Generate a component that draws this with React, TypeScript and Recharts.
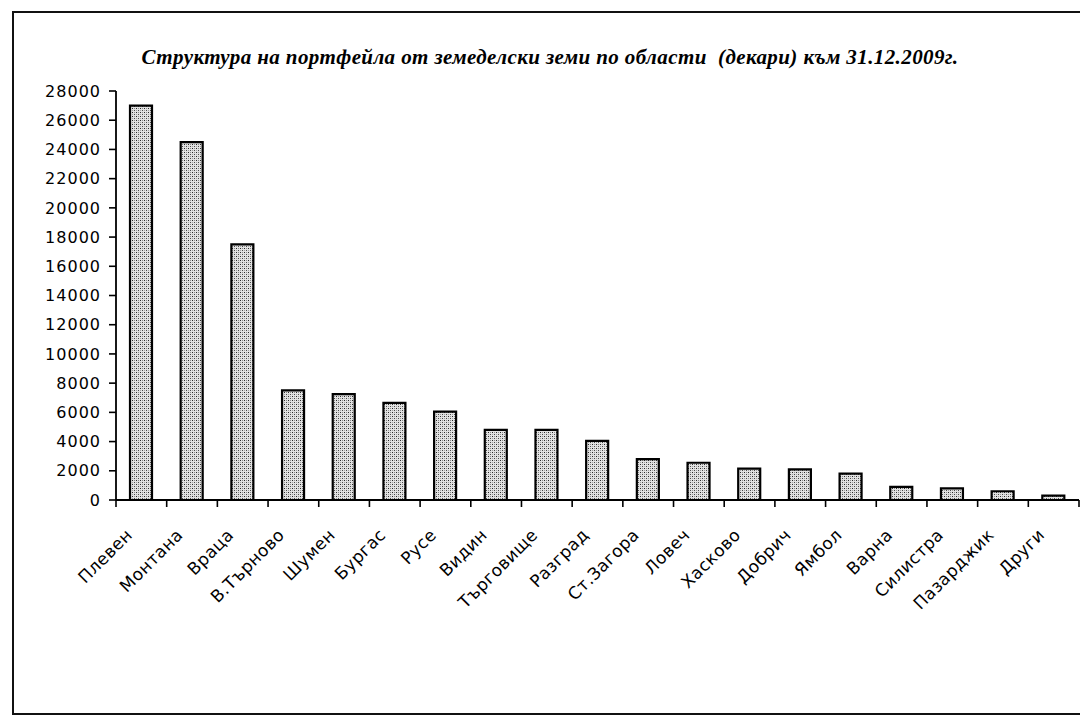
import React from 'react';
import { BarChart, Bar, XAxis, YAxis } from 'recharts';

const regions: string[] = [
  'Плевен', 'Монтана', 'Враца', 'В.Търново', 'Шумен', 'Бургас', 'Русе', 'Видин', 'Търговище',
  'Разград', 'Ст.Загора', 'Ловеч', 'Хасково', 'Добрич', 'Ямбол', 'Варна', 'Силистра', 'Пазарджик', 'Други',
];
const areas: number[] = [
  27000, 24500, 17500, 7500, 7250, 6650, 6050, 4800, 4800,
  4050, 2800, 2550, 2150, 2100, 1800, 900, 800, 600, 300,
];
const yTicks: number[] = [0, 2000, 4000, 6000, 8000, 10000, 12000, 14000, 16000, 18000, 20000, 22000, 24000, 26000, 28000];
const title = 'Структура на портфейла от земеделски земи по области  (декари) към 31.12.2009г.';

const data = regions.map((name, i) => ({ name, value: areas[i] }));

const W = 1080;
const H = 726;
const M = { top: 91, right: 1, left: 0, bottom: 106 };
const Y_W = 116;
const X_H = 120;
const PLOT_W = W - M.left - M.right - Y_W;
const BAND = PLOT_W / regions.length;

const XTick = (props: any) => {
  const { x, y, payload, index } = props;
  const left = x - BAND / 2;
  const right = x + BAND / 2;
  const tx = x - 8;
  const ty = y + 36;
  return (
    <g>
      <line x1={left} x2={left} y1={y} y2={y + 7} stroke="#000" strokeWidth={1.6} />
      {index === regions.length - 1 && (
        <line x1={right} x2={right} y1={y} y2={y + 7} stroke="#000" strokeWidth={1.6} />
      )}
      <text
        x={tx}
        y={ty}
        textAnchor="end"
        transform={`rotate(-45 ${tx} ${ty})`}
        fontFamily="'DejaVu Sans', sans-serif"
        fontSize={17}
        letterSpacing={0.4}
        fill="#000"
      >
        {payload.value}
      </text>
    </g>
  );
};

export default function App() {
  return (
    <div
      style={{
        position: 'absolute',
        left: 0,
        top: 0,
        width: W,
        height: H,
        overflow: 'hidden',
        background: '#fff',
      }}
    >
      <div
        style={{
          position: 'absolute',
          left: 12,
          top: 11,
          width: 1120,
          height: 704,
          border: '2px solid #111',
          boxSizing: 'border-box',
        }}
      />
      <div
        style={{
          position: 'absolute',
          left: 0,
          width: 1100,
          top: 45,
          textAlign: 'center',
          fontFamily: "'Liberation Serif', 'Times New Roman', serif",
          fontStyle: 'italic',
          fontWeight: 'bold',
          fontSize: 21,
          letterSpacing: 0.4,
          whiteSpace: 'pre',
          color: '#000',
        }}
      >
        {title}
      </div>
      <div style={{ position: 'absolute', left: 0, top: 0 }}>
        <BarChart width={W} height={H} data={data} margin={M} barCategoryGap={0}>
          <defs>
            <pattern id="dots" width="4" height="4" patternUnits="userSpaceOnUse">
              <rect width="4" height="4" fill="#e2e2e2" />
              <rect x="0" y="0" width="1" height="1" fill="#2a2a2a" />
              <rect x="2" y="2" width="1" height="1" fill="#4a4a4a" />
              <rect x="2" y="0" width="1" height="1" fill="#8a8a8a" />
              <rect x="0" y="2" width="1" height="1" fill="#a0a0a0" />
            </pattern>
          </defs>
          <XAxis
            dataKey="name"
            interval={0}
            height={X_H}
            tick={<XTick />}
            tickLine={false}
            tickSize={0}
            tickMargin={0}
            axisLine={{ stroke: '#000', strokeWidth: 1.8 }}
          />
          <XAxis
            xAxisId="top"
            dataKey="name"
            orientation="top"
            height={0}
            tick={false}
            tickLine={false}
            axisLine={{ stroke: '#000', strokeWidth: 1.8 }}
          />
          <YAxis
            width={Y_W}
            domain={[0, 28000]}
            ticks={yTicks}
            interval={0}
            tickSize={7}
            tickMargin={8}
            tickLine={{ stroke: '#000', strokeWidth: 1.6 }}
            axisLine={{ stroke: '#000', strokeWidth: 1.8 }}
            tick={{
              fill: '#000',
              fontSize: 16,
              fontFamily: "'DejaVu Sans', sans-serif",
              letterSpacing: 1,
            }}
          />
          <YAxis
            yAxisId="right"
            orientation="right"
            width={0}
            domain={[0, 28000]}
            tick={false}
            tickLine={false}
            axisLine={{ stroke: '#000', strokeWidth: 1.8 }}
          />
          <Bar
            dataKey="value"
            barSize={22}
            fill="url(#dots)"
            stroke="#000"
            strokeWidth={2.2}
            isAnimationActive={false}
          />
        </BarChart>
      </div>
    </div>
  );
}
